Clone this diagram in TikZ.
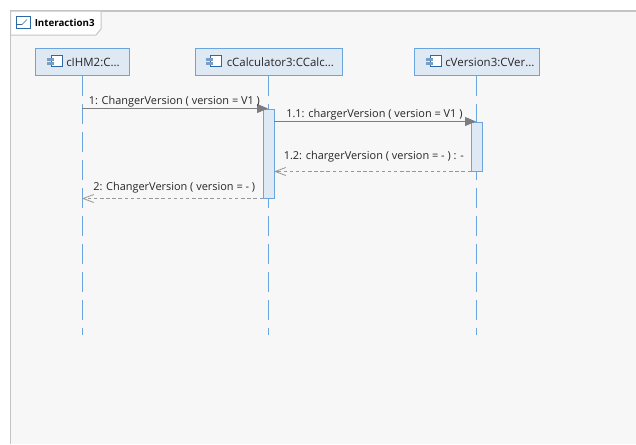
\documentclass[tikz,border=0pt]{standalone}
\usepackage{fontspec}
\setmainfont{Open Sans}
\definecolor{framegray}{RGB}{196, 196, 196}
\definecolor{paneback}{RGB}{247, 247, 248}
\definecolor{lifeblue}{RGB}{106, 165, 222}
\definecolor{headfill}{RGB}{223, 233, 244}
\definecolor{msggray}{RGB}{125, 125, 125}
\definecolor{iconblue}{RGB}{45, 105, 165}
\usetikzlibrary{arrows.meta, positioning, calc}

\begin{document}
\begin{tikzpicture}[
  x=0.75pt, y=-0.75pt,
  head/.style={draw=lifeblue, fill=headfill, line width=0.75pt, minimum height=20.25pt, inner sep=0pt},
  headtext/.style={font=\fontsize{8.6}{10}\selectfont, text=black!85, inner sep=0pt, anchor=west},
  life/.style={draw=lifeblue, line width=0.75pt, dash pattern=on 15pt off 6pt},
  activation/.style={draw=lifeblue, fill=headfill, line width=0.75pt, inner sep=0pt},
  msg/.style={draw=msggray, line width=0.75pt, -{Triangle[length=8.25pt, width=6.75pt, fill=msggray]}},
  reply/.style={draw=msggray!80, line width=0.6pt, dash pattern=on 2.6pt off 2pt, -{Straight Barb[length=8pt, width=6pt]}},
  msglabel/.style={font=\fontsize{8.2}{10}\selectfont, text=black!85, inner sep=0pt, anchor=base west},
]
  \useasboundingbox (0,0) rectangle (636,444);
  \fill[white] (0,0) rectangle (636,444);
  \fill[paneback] (10.5,11) rectangle (636,444);
  \draw[framegray, line width=0.9pt] (636,11) -- (10.5,11) -- (10.5,444);
  % frame tab
  \draw[framegray, fill=white, line width=0.75pt] (10.5,11) -- (101,11) -- (101,29) -- (96,35) -- (10.5,35) -- cycle;
  \draw[iconblue, fill=white, line width=0.6pt] (16.5,16.5) rectangle (30.5,28.5);
  \draw[iconblue, line width=0.5pt] (16.5,24.5) -- (22,24.5) -- (27,19.5);
  \node[font=\bfseries\fontsize{7.3}{9}\selectfont, inner sep=0pt, anchor=west] (title) at (34.5,23) {Interaction3};

  % lifelines
  \node[head, minimum width=70.5pt] (hmi) at (82.5,62) {};
  \node[head, minimum width=110.25pt] (calc) at (269,62) {};
  \node[head, minimum width=93.75pt] (ver) at (477,62) {};
  \coordinate (hmiend) at (82.5,335);
  \coordinate (calcend) at (268.5,335);
  \coordinate (verend) at (476.5,335);
  \draw[life] (hmi.south -| hmiend) -- (hmiend);
  \draw[life] (calc.south -| calcend) -- (calcend);
  \draw[life] (ver.south -| verend) -- (verend);

  % component icons
  \foreach \ix/\nm in {47/hmi, 206/calc, 426/ver} {
    \draw[iconblue, fill=white, line width=0.6pt] (\ix+4,55.5) rectangle (\ix+15,66);
    \fill[iconblue!65] (\ix,58) rectangle (\ix+7,60.5);
    \fill[iconblue!65] (\ix,62.3) rectangle (\ix+7,64.8);
  }
  \node[headtext] (hmitext) at (66,62) {cIHM2:C...};
  \node[headtext] (calctext) at (226.5,62) {cCalculator3:CCalc...};
  \node[headtext] (vertext) at (445,62) {cVersion3:CVer...};

  % activations
  \node[activation, minimum width=8.5pt, minimum height=66.75pt] (calcbar) at (269,153.8) {};
  \node[activation, minimum width=8pt, minimum height=36.75pt] (verbar) at (477,146.8) {};

  % messages
  \coordinate (m1s) at (82,108.5);
  \coordinate (m1e) at (268,108.5);
  \coordinate (m2s) at (274,121.5);
  \coordinate (m2e) at (476,121.5);
  \coordinate (m3s) at (471,171.5);
  \coordinate (m3e) at (274,171.5);
  \coordinate (m4s) at (263,198.5);
  \coordinate (m4e) at (82,198.5);
  \draw[msg] (m1s) -- (m1e);
  \draw[msg] (m2s) -- (m2e);
  \draw[reply] (m3s) -- (m3e);
  \draw[reply] (m4s) -- (m4e);
  \node[msglabel] (m1label) at (88.5,104) {1: ChangerVersion ( version = V1 )};
  \node[msglabel] (m2label) at (286,117) {1.1: chargerVersion ( version = V1 )};
  \node[msglabel] (m3label) at (283.5,159) {1.2: chargerVersion ( version = - ) : -};
  \node[msglabel] (m4label) at (93,190) {2: ChangerVersion ( version = - )};
\end{tikzpicture}
\end{document}
